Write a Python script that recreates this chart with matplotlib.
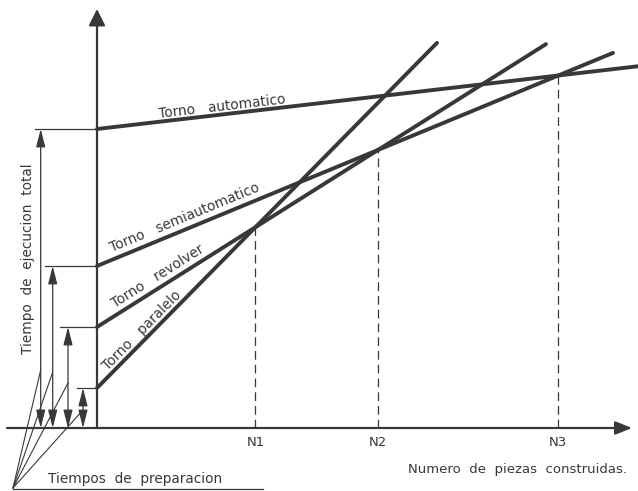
import numpy as np
import matplotlib.pyplot as plt

# lathe types: setup time and time per piece (arbitrary units)
lathes = ["Torno   paralelo", "Torno   revolver", "Torno   semiautomatico", "Torno   automatico"]
setup_time = [40, 101, 162, 299]
time_per_piece = [10.15, 6.30, 4.13, 1.16]
line_end = [34.0, 44.9, 51.6, 56.0]
label_x = [4.5, 6.1, 8.8, 12.5]
label_lift = [8.5, 8.5, 8.5, 6.0]

n_labels = ["N1", "N2", "N3"]

ink = "#383838"

fig = plt.figure(figsize=(6.38, 4.91), dpi=100)
ax = fig.add_axes([0, 0, 1, 1])
ax.set_xlim(-9.7, 54.1)
ax.set_ylim(-63, 428)
ax.axis("off")

def total_time(i, n):
    return setup_time[i] + time_per_piece[i] * np.asarray(n)

# break-even points between neighbouring lathes
breakeven = []
for i in range(3):
    n = (setup_time[i + 1] - setup_time[i]) / (time_per_piece[i] - time_per_piece[i + 1])
    breakeven.append((n, total_time(i, n)))

# axes with arrows
ax.annotate("", xy=(0, 419), xytext=(0, 0),
            arrowprops=dict(arrowstyle="-|>,head_length=1.0,head_width=0.5",
                            mutation_scale=10, lw=1.6, color=ink, shrinkA=0, shrinkB=0))
ax.annotate("", xy=(53.5, 0), xytext=(-9.0, 0),
            arrowprops=dict(arrowstyle="-|>,head_length=1.0,head_width=0.4",
                            mutation_scale=10, lw=1.6, color=ink, shrinkA=0, shrinkB=0))

# lathe lines
for i, name in enumerate(lathes):
    n = np.array([0, line_end[i]])
    ax.plot(n, total_time(i, n), color=ink, lw=2.8, solid_capstyle="round")

fig.canvas.draw()
for i, name in enumerate(lathes):
    p0 = ax.transData.transform((0, total_time(i, 0)))
    p1 = ax.transData.transform((10, total_time(i, 10)))
    ang = np.degrees(np.arctan2(p1[1] - p0[1], p1[0] - p0[0]))
    ax.annotate(name, xy=(label_x[i], total_time(i, label_x[i])), xytext=(0, label_lift[i]),
                textcoords="offset points", rotation=ang, rotation_mode="anchor",
                ha="center", va="center", fontsize=9.8, color=ink)

# dashed drop lines and N labels
for (n, t), lab in zip(breakeven, n_labels):
    ax.plot([n, n], [0, t], color=ink, lw=0.9, ls=(0, (7, 4)))
    ax.text(n, -14, lab, ha="center", va="center", fontsize=9.5, color=ink)

# setup time markers on the left
bar_start = [-2.0, -3.7, -5.2, -6.2]
arrow_x = [-1.4, -2.9, -4.43, -5.63]
leader_end = [18, 45, 56, 58]
for i in range(4):
    ax.plot([bar_start[i], 0], [setup_time[i], setup_time[i]], color=ink, lw=0.9)
    ax.annotate("", xy=(arrow_x[i], setup_time[i]), xytext=(arrow_x[i], 0),
                arrowprops=dict(arrowstyle="<|-|>,head_length=1.1,head_width=0.28",
                                mutation_scale=10, lw=0.9, color=ink, shrinkA=0, shrinkB=0))

# leader lines from the "Tiempos de preparacion" note
apex = (-8.4, -60)
for i in range(4):
    ax.plot([apex[0], arrow_x[i]], [apex[1], leader_end[i]], color=ink, lw=0.8)

ax.text(-6.9, 169, "Tiempo  de  ejecucion  total", rotation=90, ha="center", va="center",
        fontsize=9.8, color=ink)
ax.text(3.8, -51, "Tiempos  de  preparacion", ha="center", va="center", fontsize=9.8, color=ink)
ax.plot([-8.4, 16.6], [-61, -61], color=ink, lw=0.9)
ax.text(42.0, -42, "Numero  de  piezas  construidas.", ha="center", va="center",
        fontsize=9.5, color=ink)

fig.savefig("out.png", dpi=100, facecolor="white")
